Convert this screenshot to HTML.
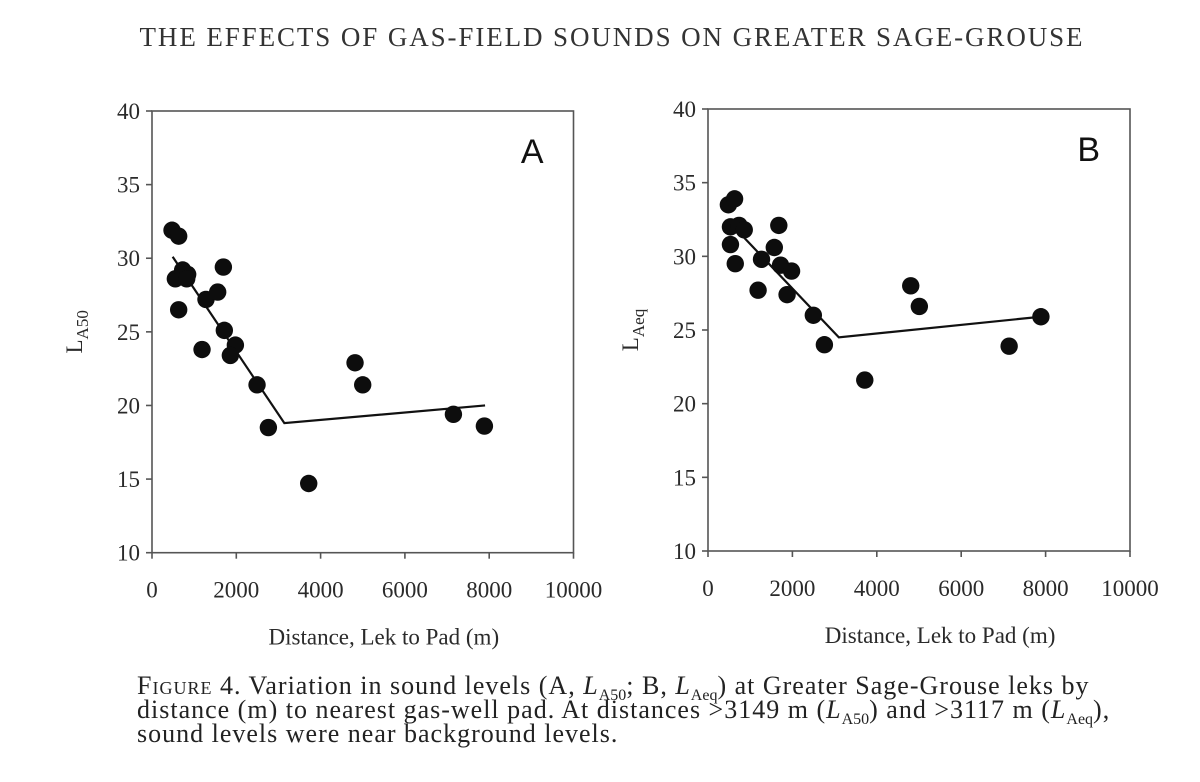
<!DOCTYPE html>
<html><head><meta charset="utf-8"><style>
body{margin:0;background:#fff;width:1200px;height:782px;overflow:hidden;font-family:"Liberation Serif",serif;}
svg{position:absolute;left:0;top:0}
.cap{position:absolute;left:137px;top:674px;font-size:26px;line-height:24px;letter-spacing:1px;color:#222;white-space:nowrap}
.cap sub{font-size:16px;line-height:0;letter-spacing:0}
.sc{font-variant:small-caps}
</style></head><body>
<svg width="1200" height="782">
<text x="612" y="46" text-anchor="middle" font-size="27" fill="#333" letter-spacing="1.9">THE EFFECTS OF GAS-FIELD SOUNDS ON GREATER SAGE-GROUSE</text>
<g id="pA"></g>
<g id="pB"></g>
</svg>
<div class="cap"><span class="sc">Figure 4.</span> Variation in sound levels (A, <i>L</i><sub>A50</sub>; B, <i>L</i><sub>Aeq</sub>) at Greater Sage-Grouse leks by<br>distance (m) to nearest gas-well pad. At distances &gt;3149 m (<i>L</i><sub>A50</sub>) and &gt;3117 m (<i>L</i><sub>Aeq</sub>),<br>sound levels were near background levels.</div>
<script>
const xTicks=[0,2000,4000,6000,8000,10000];
const yTicks=[10,15,20,25,30,35,40];
const aX=[475,633,554,728,846,823,633,1281,1187,1558,1693,1716,1978,1859,2492,2761,3718,4817,4999,7151,7886];
const aY=[31.9,31.5,28.6,29.2,28.9,28.6,26.5,27.2,23.8,27.7,29.4,25.1,24.1,23.4,21.4,18.5,14.7,22.9,21.4,19.4,18.6];
const aLineX=[490,3140,7902];
const aLineY=[30.1,18.8,20.0];
const bX=[483,630,532,532,646,736,859,1187,1268,1571,1678,1719,1980,1874,2496,2758,3715,4804,5008,7136,7889];
const bY=[33.5,33.9,32.0,30.8,29.5,32.1,31.8,27.7,29.8,30.6,32.1,29.4,29.0,27.4,26.0,24.0,21.6,28.0,26.6,23.9,25.9];
const bLineX=[712,3101,7889];
const bLineY=[31.7,24.5,25.9];
const NS='http://www.w3.org/2000/svg';
function mk(p,t,a){const e=document.createElementNS(NS,t);for(const k in a)e.setAttribute(k,a[k]);p.appendChild(e);return e;}
function panel(g,x0,w,yTop,yBot,xs,ys,lx,ly,letter,sub){
 const sx=v=>x0+v/10000*w, sy=v=>yBot-(v-10)/30*(yBot-yTop);
 const f=mk(g,'rect',{x:x0,y:yTop,width:w,height:yBot-yTop,fill:'none',stroke:'#555','stroke-width':1.6});
 
 
 yTicks.forEach(v=>{mk(g,'line',{x1:x0-6,x2:x0,y1:sy(v),y2:sy(v),stroke:'#555','stroke-width':1.6});
  const t=mk(g,'text',{x:x0-12,y:sy(v)+8,'text-anchor':'end','font-size':23,fill:'#2a2a2a'});t.textContent=v;
  
  });
 xTicks.forEach(v=>{mk(g,'line',{x1:sx(v),x2:sx(v),y1:yBot,y2:yBot+6,stroke:'#555','stroke-width':1.6});
  const t=mk(g,'text',{x:sx(v),y:yBot+45,'text-anchor':'middle','font-size':23,fill:'#2a2a2a'});t.textContent=v;
  
  });
 const xl=mk(g,'text',{x:x0+w*0.55,y:yBot+92,'text-anchor':'middle','font-size':23,fill:'#2a2a2a'});xl.textContent='Distance, Lek to Pad (m)';
 
 
 const yl=mk(g,'text',{transform:`translate(${x0-70},${(yTop+yBot)/2}) rotate(-90)`,'text-anchor':'middle','font-size':23,fill:'#2a2a2a'});
 yl.innerHTML='L<tspan font-size="17" dy="6">'+sub+'</tspan>';
 
 
 const L=mk(g,'text',{x:x0+w-30,y:yTop+52,'text-anchor':'end','font-size':34,'font-family':'Liberation Sans, sans-serif',fill:'#111'});L.textContent=letter;
 
 
 const pl=mk(g,'polyline',{points:lx.map((v,i)=>sx(v)+','+sy(ly[i])).join(' '),fill:'none',stroke:'#111','stroke-width':2.2});
 
 
 xs.forEach((v,i)=>{const c=mk(g,'circle',{cx:sx(v),cy:sy(ys[i]),r:8.7,fill:'#0d0d0d'});
  
  });
}
panel(document.getElementById('pA'),152,421.5,111,552.7,aX,aY,aLineX,aLineY,'A','A50');
panel(document.getElementById('pB'),708,422,109,551,bX,bY,bLineX,bLineY,'B','Aeq');
</script>
</body></html>
